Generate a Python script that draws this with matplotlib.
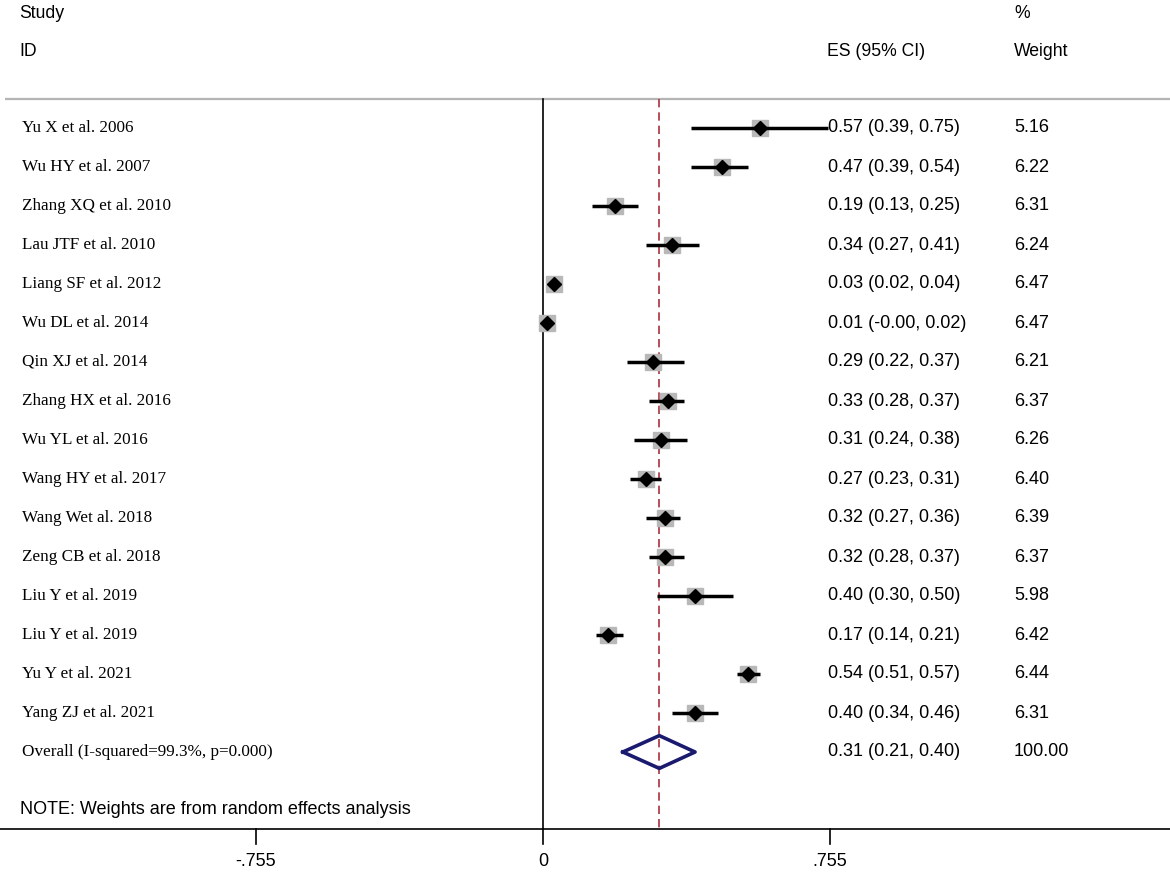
import matplotlib.pyplot as plt
import numpy as np

# Forest plot data
studies = ['Yu X et al. 2006', 'Wu HY et al. 2007', 'Zhang XQ et al. 2010', 'Lau JTF et al. 2010',
           'Liang SF et al. 2012', 'Wu DL et al. 2014', 'Qin XJ et al. 2014', 'Zhang HX et al. 2016',
           'Wu YL et al. 2016', 'Wang HY et al. 2017', 'Wang Wet al. 2018', 'Zeng CB et al. 2018',
           'Liu Y et al. 2019', 'Liu Y et al. 2019', 'Yu Y et al. 2021', 'Yang ZJ et al. 2021']
es = [0.57, 0.47, 0.19, 0.34, 0.03, 0.01, 0.29, 0.33, 0.31, 0.27, 0.32, 0.32, 0.40, 0.17, 0.54, 0.40]
lo = [0.39, 0.39, 0.13, 0.27, 0.02, -0.00, 0.22, 0.28, 0.24, 0.23, 0.27, 0.28, 0.30, 0.14, 0.51, 0.34]
hi = [0.75, 0.54, 0.25, 0.41, 0.04, 0.02, 0.37, 0.37, 0.38, 0.31, 0.36, 0.37, 0.50, 0.21, 0.57, 0.46]
weights = [5.16, 6.22, 6.31, 6.24, 6.47, 6.47, 6.21, 6.37, 6.26, 6.40, 6.39, 6.37, 5.98, 6.42, 6.44, 6.31]
overall_label = 'Overall (I-squared=99.3%, p=0.000)'
overall_es, overall_lo, overall_hi = 0.306, 0.21, 0.40
overall_text = '0.31 (0.21, 0.40)'
overall_weight = '100.00'
xticks = [-0.755, 0, 0.755]
xtick_labels = ['-.755', '0', '.755']

# pixel layout helpers
X0, PXU = 543.0, 380.1      # pixel of x=0, pixels per unit
Y0, PXR = 128.0, 39.0       # pixel of first row, pixels per row


def px2x(px):
    return (px - X0) / PXU


def px2y(py):
    return (py - Y0) / PXR


fig = plt.figure(figsize=(11.7, 8.73), dpi=100)
ax = fig.add_axes([0, 0, 1, 1])
ax.set_xlim(px2x(0), px2x(1170))
ax.set_ylim(px2y(873), px2y(0))
ax.axis('off')

serif = 'Liberation Serif'
sans = 'Liberation Sans'

# headers
ax.text(px2x(19), px2y(13), 'Study', family=sans, fontsize=12.7, va='center')
ax.text(px2x(19), px2y(52), 'ID', family=sans, fontsize=12.7, va='center')
ax.text(px2x(827), px2y(52), 'ES (95% CI)', family=sans, fontsize=12.7, va='center')
ax.text(px2x(1014), px2y(13), '%', family=sans, fontsize=12.7, va='center')
ax.text(px2x(1014), px2y(52), 'Weight', family=sans, fontsize=12.7, va='center')

top = px2y(99)
bottom = px2y(829)
ax.plot([px2x(5), px2x(1170)], [top, top], color='#b4b4b4', lw=1.6, solid_capstyle='butt')
ax.plot([0, 0], [top, bottom], color='black', lw=1.2)
ax.plot([overall_es, overall_es], [top, bottom], color='#a8323e', lw=1.2, ls=(0, (5, 3)))

rows = np.arange(len(studies))
for i in rows:
    ax.plot([lo[i], hi[i]], [i, i], color='black', lw=2.5, solid_capstyle='butt', zorder=3)
    ax.plot(es[i], i, marker='s', ms=4.8 * np.sqrt(weights[i]), color='#b8b8b8', mec='#b8b8b8', zorder=2)
    ax.plot(es[i], i, marker='D', ms=7, color='black', zorder=4)
    ax.text(px2x(22), i, studies[i], family=serif, fontsize=12.3, va='center')
    ax.text(px2x(828), i, f'{es[i]:.2f} ({lo[i]:.2f}, {hi[i]:.2f})', family=sans, fontsize=13, va='center')
    ax.text(px2x(1014), i, f'{weights[i]:.2f}', family=sans, fontsize=13, va='center')

# overall diamond
r = len(studies)
h = 0.42
ax.plot([overall_lo, overall_es, overall_hi, overall_es, overall_lo],
        [r, r - h, r, r + h, r], color='#1a1a6e', lw=2.6, zorder=4)
ax.text(px2x(22), r, overall_label, family=serif, fontsize=12.3, va='center')
ax.text(px2x(828), r, overall_text, family=sans, fontsize=13, va='center')
ax.text(px2x(1014), r, overall_weight, family=sans, fontsize=13, va='center')

ax.text(px2x(20), px2y(810), 'NOTE: Weights are from random effects analysis', family=sans, fontsize=13, va='center')

# x axis
ax.plot([px2x(0), px2x(1170)], [bottom, bottom], color='black', lw=1.2)
for t, lab in zip(xticks, xtick_labels):
    ax.plot([t, t], [bottom, px2y(844)], color='black', lw=1.2)
    ax.text(t, px2y(861), lab, family=sans, fontsize=13, ha='center', va='center')

fig.savefig('out.png', dpi=100)
